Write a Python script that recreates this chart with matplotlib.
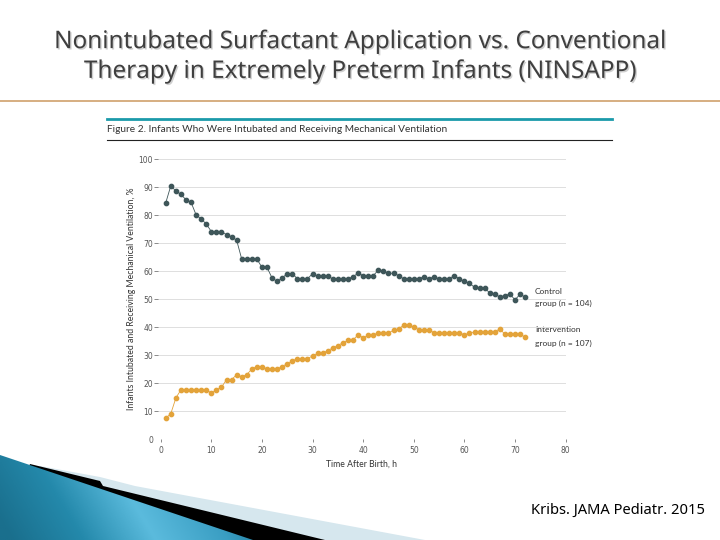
import numpy as np
import matplotlib
matplotlib.use('Agg')
import matplotlib.pyplot as plt
import matplotlib.patheffects as pe
from matplotlib.patches import Polygon
from matplotlib.colors import LinearSegmentedColormap

# data (percent of infants, hourly 1..72 h)
hours = np.arange(1, 73)
control = [84.5, 90.6, 88.6, 87.5, 85.5, 84.6, 80.1, 78.7, 76.9, 74.2,
           74.2, 74.2, 73.1, 72.3, 71.1, 64.4, 64.4, 64.4, 64.4, 61.4,
           61.4, 57.6, 56.4, 57.6, 59.2, 59.2, 57.3, 57.3, 57.3, 59.2,
           58.3, 58.3, 58.3, 57.3, 57.3, 57.3, 57.3, 58.1, 59.3, 58.5,
           58.5, 58.5, 60.4, 60.0, 59.3, 59.3, 58.5, 57.3, 57.3, 57.3,
           57.3, 58.1, 57.3, 58.1, 57.3, 57.3, 57.3, 58.5, 57.3, 56.4,
           55.7, 54.3, 54.0, 54.0, 52.3, 51.8, 50.9, 51.3, 51.9, 49.8,
           51.8, 50.8]
intervention = [7.5, 9.2, 14.8, 17.7, 17.7, 17.7, 17.7, 17.7, 17.7, 16.5,
                17.7, 18.6, 21.3, 21.3, 23.1, 22.3, 23.1, 25.1, 26.0, 26.0,
                25.1, 25.1, 25.1, 26.0, 27.0, 28.0, 28.8, 28.8, 28.8, 29.8,
                30.7, 30.7, 31.7, 32.6, 33.5, 34.5, 35.3, 35.5, 37.3, 36.3,
                37.1, 37.3, 38.0, 38.0, 38.0, 38.9, 39.5, 40.7, 40.7, 40.1,
                39.2, 39.2, 39.2, 38.0, 38.0, 38.0, 38.0, 38.0, 38.0, 37.3,
                38.0, 38.3, 38.3, 38.3, 38.3, 38.3, 39.5, 37.5, 37.5, 37.5,
                37.5, 36.5]
x_ticks = [0, 10, 20, 30, 40, 50, 60, 70, 80]
y_ticks = [0, 10, 20, 30, 40, 50, 60, 70, 80, 90, 100]

slide_title = ('Nonintubated Surfactant Application vs. Conventional\n'
               'Therapy in Extremely Preterm Infants (NINSAPP)')
fig_caption = 'Figure 2. Infants Who Were Intubated and Receiving Mechanical Ventilation'
source = 'Kribs. JAMA Pediatr. 2015'

fig = plt.figure(figsize=(7.2, 5.4), dpi=100)

# background layer in pixel coordinates
bg = fig.add_axes([0, 0, 1, 1])
bg.axis('off')

bg.text(361, 57, slide_title, ha='center', va='center', fontsize=17.5,
        family='Noto Sans', color='#3f3f3f', linespacing=1.32,
        path_effects=[pe.withSimplePatchShadow(offset=(1, -1), shadow_rgbFace='#b0b0b0', alpha=0.6)])
bg.plot([0, 720], [101, 101], color='#cfa16c', lw=1.2)
bg.plot([107, 612], [119, 119], color='#1b9aaa', lw=2)
bg.text(107, 129.5, fig_caption, ha='left', va='center', fontsize=7.3,
        family='Lato', color='#333333')
bg.plot([107, 612], [140, 140], color='#222222', lw=0.8)

# bottom-left decoration
bg.add_patch(Polygon([(40, 466), (100, 477), (135, 486), (425, 540), (0, 540)],
                     closed=True, fc='#d6e7ee', ec='none'))
bg.add_patch(Polygon([(30, 464), (100, 481), (103, 486), (325, 540), (0, 540)],
                     closed=True, fc='black', ec='none'))
blue = Polygon([(0, 455), (253, 540), (0, 540)], closed=True, fc='none', ec='none')
bg.add_patch(blue)
gx, gy = np.meshgrid(np.linspace(0, 255, 200), np.linspace(452, 540, 80))
grad = gx - 0.6 * (gy - 455)
blue_cmap = LinearSegmentedColormap.from_list(
    'swoosh', ['#1a6f8d', '#2489ab', '#5bbbdd', '#3a9ec3', '#0d6586'])
im = bg.imshow(grad, extent=(0, 255, 452, 540), origin='lower', cmap=blue_cmap,
               aspect='auto', vmin=-40, vmax=250, zorder=3)
im.set_clip_path(blue)

bg.text(705, 510, source, ha='right', va='center', fontsize=10.6,
        family='Noto Sans', color='black')

bg.set_xlim(0, 720)
bg.set_ylim(540, 0)

# main chart
ax = fig.add_axes([158.2 / 720, (540 - 439.3) / 540, (565.6 - 158.2) / 720, 281.4 / 540])
ax.patch.set_alpha(0)
ax.plot(hours, control, '-o', color='#3e5659', ms=3.1, lw=0.6)
ax.plot(hours, intervention, '-o', color='#e3a33a', ms=3.1, lw=0.6)

ax.set_xlim(-0.5, 80)
ax.set_ylim(0, 100.5)
ax.set_xticks(x_ticks)
ax.set_yticks(y_ticks)
for s in ax.spines.values():
    s.set_visible(False)
ax.grid(axis='y', color='#dedede', lw=0.7)
ax.tick_params(axis='y', length=3, width=0.6, color='#777777', pad=0.8,
               labelsize=5.5, labelcolor='#555555')
ax.tick_params(axis='x', length=2.5, width=0.6, color='#777777', pad=2,
               labelsize=5.5, labelcolor='#555555')
first = ax.yaxis.get_major_ticks()[0]
first.tick1line.set_visible(False)
first.gridline.set_visible(False)

ax.set_xlabel('Time After Birth, h', fontsize=6.2, family='Lato', color='#333333', labelpad=3.5)
ax.set_ylabel('Infants Intubated and Receiving Mechanical Ventilation, %', fontsize=6.2,
              family='Lato', color='#333333', labelpad=2)

bg.text(535, 291, 'Control', fontsize=6, family='Lato', color='#333333', va='center')
bg.text(535, 303.5, 'group (n = 104)', fontsize=6, family='Lato', color='#333333', va='center')
bg.text(535, 330, 'Intervention', fontsize=6, family='Lato', color='#333333', va='center')
bg.text(535, 343, 'group (n = 107)', fontsize=6, family='Lato', color='#333333', va='center')

fig.savefig('out.png', dpi=100)
